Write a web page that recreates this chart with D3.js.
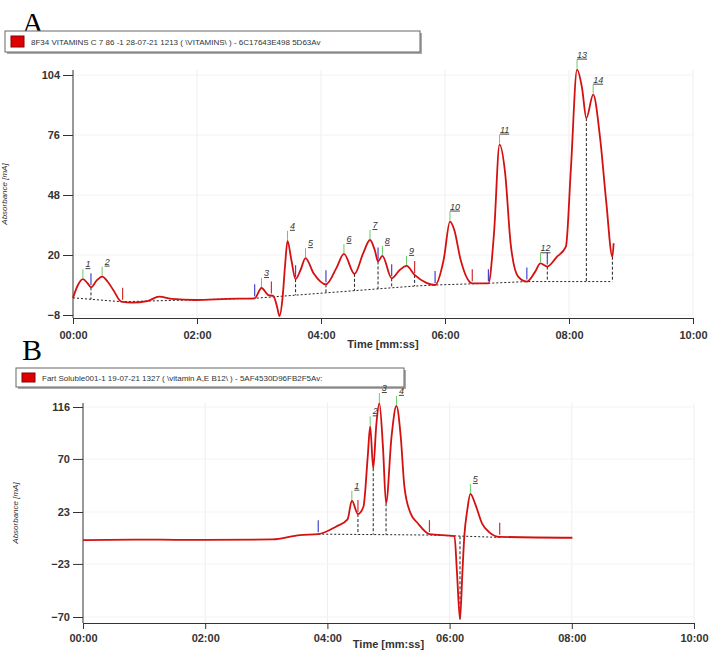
<!DOCTYPE html>
<html><head><meta charset="utf-8">
<script src="https://cdn.jsdelivr.net/npm/d3@7"></script>
<style>
body{margin:0;background:#fff;font-family:"Liberation Sans",Arial,sans-serif}
.axis text{font-size:11px;fill:#333;font-weight:bold}
.axis path,.axis line{stroke:#333}
</style></head><body>
<svg id="c" width="712" height="653"></svg>
<script>
const d3 = window.d3;
// times in minutes, values in mA
const timeTicks = [0, 2, 4, 6, 8, 10];
const yTicksA = [-8, 20, 48, 76, 104];
const yTicksB = [-70, -23, 23, 70, 116];

const traceA = [[0,0],[0.08,6],[0.16,8.7],[0.23,7],[0.29,4.9],[0.38,8],[0.47,9.9],[0.56,7.5],[0.65,3.7],[0.78,-1.8],[0.95,-2.2],[1.2,-1.5],[1.39,0.6],[1.6,-0.5],[1.97,-1],[2.49,-0.5],[2.93,-0.2],[3.04,4.6],[3.15,1.3],[3.23,0.9],[3.29,-4],[3.33,-8.5],[3.38,0],[3.42,15],[3.46,26.6],[3.52,18],[3.59,8.7],[3.67,13],[3.75,18.5],[3.88,11.5],[4.08,6.3],[4.25,14],[4.37,20.5],[4.54,11.2],[4.68,20.8],[4.79,27],[4.87,22],[4.92,17],[4.99,19.6],[5.14,9.1],[5.27,13],[5.38,14.9],[5.51,10.7],[5.7,7],[5.84,6],[5.98,18],[6.08,35.6],[6.15,31.7],[6.25,18],[6.44,6.8],[6.70,6.8],[6.79,30],[6.88,71.5],[6.97,58.2],[7.06,25],[7.18,9.9],[7.32,7.6],[7.45,12],[7.54,16.1],[7.65,14.6],[7.8,19],[7.95,23.9],[8.03,60],[8.13,106.5],[8.21,98],[8.28,83.9],[8.39,94.8],[8.5,75],[8.6,45],[8.70,19.2],[8.72,25.5]];
const baseA = [[0,0],[0.78,-1.8],[2.93,-0.2],[5.51,5.5],[5.84,6],[6.70,6.8],[7.32,7.6],[8.70,7.6]];
const dropsA = [0.29, 3.59, 4.08, 4.54, 4.92, 5.14, 5.51, 7.65, 8.28, 8.70];
const peaksA = [[0.16,8.7,"1"],[0.47,9.9,"2"],[3.04,4.6,"3"],[3.46,26.6,"4"],[3.75,18.5,"5"],[4.37,20.5,"6"],[4.79,27,"7"],[4.99,19.6,"8"],[5.38,14.9,"9"],[6.08,35.6,"10"],[6.88,71.5,"11"],[7.54,16.1,"12"],[8.13,106.5,"13"],[8.39,94.8,"14"]];
const marksA = [[0.29,"#44c"],[0.8,"#c33"],[2.93,"#44c"],[3.2,"#c33"],[3.59,"#44c"],[4.08,"#44c"],[4.92,"#44c"],[5.14,"#44c"],[5.51,"#c33"],[5.84,"#44c"],[6.44,"#c33"],[6.70,"#44c"],[7.32,"#44c"],[7.65,"#44c"]];

const traceB = [[0,-1.9],[1,-1.5],[2,-1.7],[3.1,-1.3],[3.55,2.6],[3.85,3.4],[4.14,10],[4.33,16.5],[4.40,33],[4.50,21.2],[4.59,27.7],[4.66,72],[4.70,98.8],[4.75,61.8],[4.80,100],[4.85,119.5],[4.91,80],[4.96,30.7],[5.05,90],[5.13,117],[5.2,90],[5.26,45.5],[5.36,22],[5.48,13],[5.67,3.4],[6.08,1.7],[6.12,-30],[6.17,-72],[6.21,-30],[6.24,1],[6.29,25],[6.34,39],[6.42,30],[6.53,13],[6.65,5],[6.82,1],[8.01,0.2]];
const baseB = [[3.85,3.4],[5.67,2.6],[6.82,0.5]];
const dropsB = [4.50, 4.75, 4.96, 6.17];
const peaksB = [[4.40,33,"1"],[4.70,98.8,"2"],[4.85,119.5,"3"],[5.13,117,"4"],[6.34,39,"5"]];
const marksB = [[3.85,"#44c"],[4.50,"#c33"],[5.67,"#c33"],[6.82,"#c33"]];

const svg = d3.select('#c');
const fmt = m => String(m).padStart(2,'0') + ':00';
const interpAt = (tr, t) => {
  for (let i = 1; i < tr.length; i++) if (tr[i][0] >= t) {
    const a = tr[i-1], b = tr[i]; return a[1] + (b[1]-a[1])*(t-a[0])/(b[0]-a[0]);
  }
  return tr[tr.length-1][1];
};

function panel(o) {
  svg.append('text').attr('x', o.letter[0]).attr('y', o.letter[1])
    .attr('font-family','Liberation Serif,serif').attr('font-size',30).text(o.letterText);
  const lg = svg.append('g');
  lg.append('rect').attr('x',o.legend[0]+2).attr('y',o.legend[1]+2).attr('width',o.legend[2]).attr('height',o.legend[3]).attr('fill','#aaa');
  lg.append('rect').attr('x',o.legend[0]).attr('y',o.legend[1]).attr('width',o.legend[2]).attr('height',o.legend[3]).attr('fill','#fff').attr('stroke','#666');
  lg.append('rect').attr('x',o.legend[0]+6).attr('y',o.legend[1]+5).attr('width',13).attr('height',o.legend[3]-10).attr('fill','#d00').attr('stroke','#800');
  lg.append('text').attr('x',o.legend[0]+26).attr('y',o.legend[1]+o.legend[3]/2+3.5).attr('font-size',8).attr('fill','#333').text(o.legendText);

  const x = d3.scaleLinear().domain([0,10]).range([o.x0, o.x1]);
  const y = d3.scaleLinear().domain(o.yDom).range([o.yb, o.yt]);
  const g = svg.append('g');
  g.selectAll('.gx').data(timeTicks.slice(1)).join('line')
    .attr('x1',x).attr('x2',x).attr('y1',o.top).attr('y2',o.bottom).attr('stroke','#eee');
  g.selectAll('.gy').data(o.yTicks).join('line')
    .attr('x1',o.x0).attr('x2',o.x1).attr('y1',y).attr('y2',y).attr('stroke','#f3f3f3');
  g.append('g').attr('class','axis').attr('transform',`translate(0,${o.bottom})`)
    .call(d3.axisBottom(x).tickValues(timeTicks).tickFormat(fmt).tickSize(6).tickSizeOuter(0))
    .call(s => s.selectAll('text').attr('dy',o.tickDy));
  g.append('g').attr('class','axis').attr('transform',`translate(${o.x0},0)`)
    .call(d3.axisLeft(y).tickValues(o.yTicks).tickSize(10).tickSizeOuter(0))
    .call(s => s.select('.domain').attr('d',`M0,${o.top}V${o.bottom}`));
  g.append('text').attr('x',(o.x0+o.x1)/2).attr('y',o.bottom+o.titleDy).attr('text-anchor','middle')
    .attr('font-size',11).attr('font-weight','bold').attr('fill','#333').text('Time [mm:ss]');
  g.append('text').attr('transform',`translate(${o.labX},${(o.top+o.bottom)/2}) rotate(-90)`)
    .attr('text-anchor','middle').attr('font-size',8).attr('font-style','italic').attr('fill','#333').text('Absorbance [mA]');

  const line = d3.line().x(d => x(d[0])).y(d => y(d[1])).curve(d3.curveMonotoneX);
  g.append('path').datum(o.base).attr('d', d3.line().x(d=>x(d[0])).y(d=>y(d[1])))
    .attr('fill','none').attr('stroke','#222').attr('stroke-dasharray','2,2');
  g.selectAll('.drop').data(o.drops).join('line')
    .attr('x1',x).attr('x2',x).attr('y1',t => y(interpAt(o.trace,t))).attr('y2',t => y(interpAt(o.base,t)))
    .attr('stroke','#222').attr('stroke-dasharray','3,2');
  g.selectAll('.mk').data(o.marks).join('line')
    .attr('x1',d=>x(d[0])).attr('x2',d=>x(d[0]))
    .attr('y1',d=>y(interpAt(o.trace,d[0]))-2).attr('y2',d=>y(interpAt(o.trace,d[0]))-14)
    .attr('stroke',d=>d[1]).attr('stroke-width',1.2);
  g.append('path').datum(o.trace).attr('d',line).attr('fill','none').attr('stroke','#d41010').attr('stroke-width',1.8);
  const pk = g.selectAll('.pk').data(o.peaks).join('g');
  pk.append('line').attr('x1',d=>x(d[0])).attr('x2',d=>x(d[0]))
    .attr('y1',d=>y(d[1])-1).attr('y2',d=>y(d[1])-10).attr('stroke','#6c6');
  pk.append('text').attr('x',d=>x(d[0])+5).attr('y',d=>y(d[1])-12).attr('text-anchor','middle')
    .attr('font-size',9).attr('font-style','italic').attr('text-decoration','underline').attr('fill','#333').text(d=>d[2]);
}

panel({letterText:'A', letter:[22,33], legend:[5,31,415,21],
  legendText:'8F34 VITAMINS C 7 86 -1 28-07-21 1213  ( \\VITAMINS\\ ) - 6C17643E498 5D63Av',
  x0:73, x1:693, top:70, bottom:318, yDom:[-8,104], yb:315, yt:75, yTicks:yTicksA, tickDy:'1.1em', titleDy:30,
  trace:traceA, base:baseA, drops:dropsA, peaks:peaksA, marks:marksA, labX:7});
panel({letterText:'B', letter:[22,360], legend:[16,368,388,19],
  legendText:'Fart Soluble001-1 19-07-21 1327  ( \\vitamin A,E B12\\ ) - 5AF4530D96FB2F5Av:',
  x0:83, x1:694, top:403, bottom:623, yDom:[-70,116], yb:617, yt:407, yTicks:yTicksB, tickDy:'0.9em', titleDy:25,
  trace:traceB, base:baseB, drops:dropsB, peaks:peaksB, marks:marksB, labX:18});
</script></body></html>
